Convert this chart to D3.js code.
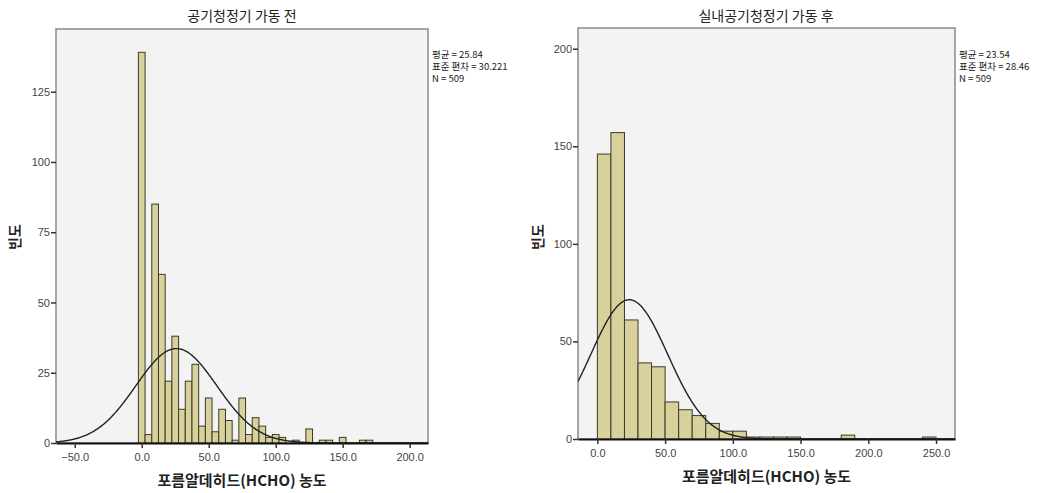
<!DOCTYPE html>
<html>
<head>
<meta charset="utf-8">
<script src="https://cdn.jsdelivr.net/npm/d3@7"></script>
<style>
  body { margin: 0; background: #fff; }
  svg text { font-family: "Liberation Sans", "Noto Sans CJK KR", sans-serif; }
  .kr { font-family: "Noto Sans CJK KR", sans-serif; }
</style>
</head>
<body>
<div id="viz"></div>
<script>
// data
const leftCenters = [0,5,10,15,20,25,30,35,40,45,50,55,60,65,70,75,80,85,90,95,100,105,110,115,120,125,130,135,140,145,150,155,160,165,170];
const leftCounts  = [139,3,85,60,22,38,12,22,28,6,16,4,12,8,1,16,3,9,6,2,3,2,0,1,0,5,0,1,1,0,2,0,0,1,1];
const leftBinWidth = 5;
const leftStats = {mean: 25.84, sd: 30.221, n: 509};
const leftStatLines = ["평균 = 25.84", "표준 편차 = 30.221", "N = 509"];
const leftXTicks = [-50, 0, 50, 100, 150, 200];
const leftYTicks = [0, 25, 50, 75, 100, 125];

const rightStarts = [0,10,20,30,40,50,60,70,80,90,100,110,120,130,140,150,160,170,180,190,200,210,220,230,240];
const rightCounts = [146,157,61,39,37,19,15,12,8,4,4,1,1,1,1,0,0,0,2,0,0,0,0,0,1];
const rightBinWidth = 10;
const rightStats = {mean: 23.54, sd: 28.46, n: 509};
const rightStatLines = ["평균 = 23.54", "표준 편차 = 28.46", "N = 509"];
const rightXTicks = [0, 50, 100, 150, 200, 250];
const rightYTicks = [0, 50, 100, 150, 200];

const xLabel = "포름알데히드(HCHO) 농도";
const yLabel = "빈도";

const svg = d3.select("#viz").append("svg")
  .attr("width", 1047).attr("height", 493);

function drawPanel(p) {
  const g = svg.append("g");
  const x = d3.scaleLinear().domain(p.xDomain).range([p.left, p.right]);
  const y = d3.scaleLinear().domain(p.yDomain).range([p.bottom, p.top]);

  // plot background + frame
  g.append("rect")
    .attr("x", p.left).attr("y", p.top)
    .attr("width", p.right - p.left).attr("height", p.bottom - p.top)
    .attr("fill", "#f3f3f3").attr("stroke", "#8a8a8a").attr("stroke-width", 1.5);

  // bars
  g.selectAll("rect.bar")
    .data(p.bins.filter(d => d.count > 0))
    .enter().append("rect")
      .attr("class", "bar")
      .attr("x", d => x(d.x0))
      .attr("width", d => x(d.x1) - x(d.x0))
      .attr("y", d => y(d.count))
      .attr("height", d => y(0) - y(d.count))
      .attr("fill", "#d9d19b")
      .attr("stroke", "#3a3a2a")
      .attr("stroke-width", 1);

  // fitted normal curve
  const clipId = "clip" + p.id;
  svg.append("clipPath").attr("id", clipId)
    .append("rect").attr("x", p.left).attr("y", p.top)
    .attr("width", p.right - p.left).attr("height", p.bottom - p.top);
  const s = p.stats;
  const pts = d3.range(p.xDomain[0], p.xDomain[1], 0.5).map(v => [v,
    s.n * p.binWidth / (s.sd * Math.sqrt(2 * Math.PI)) * Math.exp(-0.5 * Math.pow((v - s.mean) / s.sd, 2))]);
  g.append("path")
    .datum(pts)
    .attr("clip-path", "url(#" + clipId + ")")
    .attr("fill", "none")
    .attr("stroke", "#222")
    .attr("stroke-width", 1.4)
    .attr("d", d3.line().x(d => x(d[0])).y(d => y(d[1])));

  // axes
  const xAxis = g.append("g")
    .attr("transform", "translate(0," + p.bottom + ")")
    .call(d3.axisBottom(x).tickValues(p.xTicks).tickFormat(d3.format(".1f")).tickSize(5).tickSizeOuter(0));
  xAxis.select(".domain").attr("stroke", "#111").attr("stroke-width", 2);
  xAxis.selectAll(".tick line").attr("stroke", "#333").attr("stroke-width", 1.5);
  xAxis.selectAll(".tick text").attr("fill", "#444").attr("font-size", 11).attr("dy", "0.95em");

  const yAxis = g.append("g")
    .attr("transform", "translate(" + p.left + ",0)")
    .call(d3.axisLeft(y).tickValues(p.yTicks).tickSize(5).tickSizeOuter(0));
  yAxis.select(".domain").remove();
  yAxis.selectAll(".tick line").attr("stroke", "#333").attr("stroke-width", 1.5);
  yAxis.selectAll(".tick text").attr("fill", "#444").attr("font-size", 11).attr("x", -6);

  // title
  g.append("text").attr("class", "kr")
    .attr("x", p.titleX).attr("y", 21)
    .attr("text-anchor", "middle")
    .attr("font-size", 14).attr("fill", "#222")
    .text(p.title);

  // stats
  g.selectAll("text.stat")
    .data(p.statLines)
    .enter().append("text")
      .attr("class", "stat kr")
      .attr("x", p.right + 4)
      .attr("y", (d, i) => 58 + i * 12)
      .attr("font-size", 9.5).attr("fill", "#222")
      .text(d => d);

  // axis labels
  g.append("text").attr("class", "kr")
    .attr("x", (p.left + p.right) / 2).attr("y", p.xLabelY)
    .attr("text-anchor", "middle")
    .attr("font-size", 15).attr("font-weight", "bold").attr("fill", "#222")
    .text(xLabel);

  g.append("text").attr("class", "kr")
    .attr("transform", "translate(" + p.yLabelX + "," + p.yLabelY + ") rotate(-90)")
    .attr("text-anchor", "middle")
    .attr("font-size", 14).attr("font-weight", "bold").attr("fill", "#222")
    .text(yLabel);
}

drawPanel({
  id: "L", title: "공기청정기 가동 전", titleX: 242,
  left: 56, right: 428, top: 29, bottom: 443,
  xDomain: [-64, 213.7], yDomain: [0, 147.3],
  bins: leftCenters.map((c, i) => ({x0: c - leftBinWidth / 2, x1: c + leftBinWidth / 2, count: leftCounts[i]})),
  binWidth: leftBinWidth, stats: leftStats, statLines: leftStatLines,
  xTicks: leftXTicks, yTicks: leftYTicks,
  xLabelY: 486, yLabelX: 20, yLabelY: 237
});

drawPanel({
  id: "R", title: "실내공기청정기 가동 후", titleX: 766,
  left: 578, right: 955, top: 28, bottom: 439,
  xDomain: [-14.3, 264], yDomain: [0, 210.6],
  bins: rightStarts.map((s0, i) => ({x0: s0, x1: s0 + rightBinWidth, count: rightCounts[i]})),
  binWidth: rightBinWidth, stats: rightStats, statLines: rightStatLines,
  xTicks: rightXTicks, yTicks: rightYTicks,
  xLabelY: 482, yLabelX: 543, yLabelY: 237
});
</script>
</body>
</html>
